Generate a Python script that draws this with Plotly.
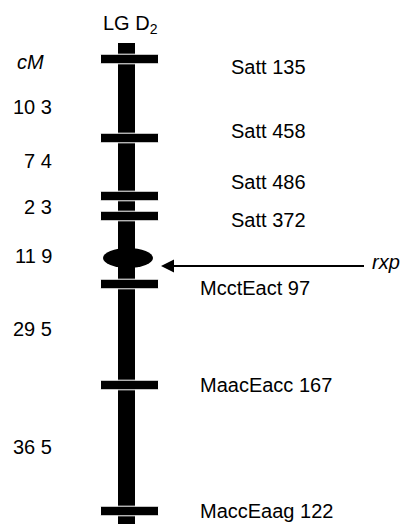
import plotly.graph_objects as go

# ---- data ----
markers = ["Satt 135", "Satt 458", "Satt 486", "Satt 372",
           "McctEact 97", "MaacEacc 167", "MaccEaag 122"]
marker_pos = [59, 138, 196, 216, 284, 385, 511]        # drawn map position
marker_label_pos = [67, 131, 182, 220, 288, 385, 511]
interval_labels = ["10 3", "7 4", "2 3", "11 9", "29 5", "36 5"]
interval_pos = [107, 161, 207, 256, 329, 447]
rxp_pos = 258          # gene locus (ellipse)
rxp_arrow_pos = 266
chrom_top, chrom_bottom = 43, 540

# ---- styling/layout constants ----
W, H = 410, 524
PAGE_MARGIN = 8       # default browser body margin
CX = 126.5            # chromosome centre
BAR_HALF = 8.5
CROSS_L, CROSS_R = 100.5, 158.5
CROSS_HALF = 4.8
FONT = "Liberation Sans, Arial, sans-serif"
FS = 20

fig = go.Figure()

shapes = []
shapes.append(dict(type="rect", xref="x", yref="y", x0=CX - BAR_HALF, x1=CX + BAR_HALF,
                   y0=chrom_top, y1=chrom_bottom, fillcolor="black", line=dict(width=0)))
for p in marker_pos:
    shapes.append(dict(type="rect", xref="x", yref="y", x0=CROSS_L, x1=CROSS_R,
                       y0=p - CROSS_HALF, y1=p + CROSS_HALF, fillcolor="black",
                       line=dict(color="white", width=1)))
shapes.append(dict(type="circle", xref="x", yref="y", x0=103, x1=153,
                   y0=rxp_pos - 10, y1=rxp_pos + 10, fillcolor="black", line=dict(width=0)))
shapes.append(dict(type="line", xref="x", yref="y", x0=170, x1=364,
                   y0=rxp_arrow_pos, y1=rxp_arrow_pos, line=dict(color="black", width=2)))
fig.update_layout(shapes=shapes)

fig.add_trace(go.Scatter(x=[161], y=[rxp_arrow_pos], mode="markers",
                         marker=dict(symbol="arrow-left", size=13, color="black",
                                     line=dict(width=0)),
                         hoverinfo="skip", showlegend=False))

ann = []
for name, p in zip(markers, marker_label_pos):
    x = 229 if name.startswith("Satt") else 198
    ann.append(dict(x=x, y=p, xref="x", yref="y", text=name, showarrow=False,
                    xanchor="left", yanchor="middle",
                    font=dict(family=FONT, size=FS, color="black")))
for t, p in zip(interval_labels, interval_pos):
    ann.append(dict(x=54, y=p, xref="x", yref="y", text=t, showarrow=False,
                    xanchor="right", yanchor="middle",
                    font=dict(family=FONT, size=FS, color="black")))
ann.append(dict(x=15, y=62, xref="x", yref="y", text="<i>cM</i>", showarrow=False,
                xanchor="left", yanchor="middle",
                font=dict(family=FONT, size=FS, color="black")))
ann.append(dict(x=101, y=24, xref="x", yref="y", text="LG D<sub>2</sub>", showarrow=False,
                xanchor="left", yanchor="middle",
                font=dict(family=FONT, size=FS, color="black")))
ann.append(dict(x=370, y=262, xref="x", yref="y", text="<i>rxp</i>", showarrow=False,
                xanchor="left", yanchor="middle",
                font=dict(family=FONT, size=FS, color="black")))
fig.update_layout(annotations=ann)

fig.update_layout(
    width=W - PAGE_MARGIN, height=H - PAGE_MARGIN, margin=dict(l=0, r=0, t=0, b=0),
    paper_bgcolor="white", plot_bgcolor="white",
    xaxis=dict(range=[PAGE_MARGIN, W], visible=False, fixedrange=True),
    yaxis=dict(range=[H, PAGE_MARGIN], visible=False, fixedrange=True),
    showlegend=False,
)
fig.write_html("out.html")
